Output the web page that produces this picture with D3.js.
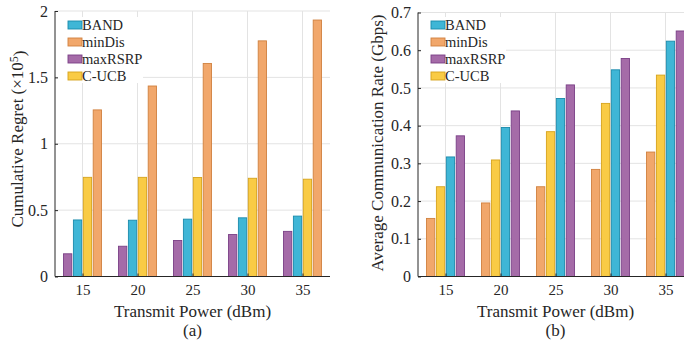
<!DOCTYPE html>
<html>
<head>
<meta charset="utf-8">
<script src="https://cdn.jsdelivr.net/npm/d3@7"></script>
<style>
  body { margin: 0; background: #fff; }
  svg text { font-family: "Liberation Serif", "Times New Roman", serif; fill: #262626; }
</style>
</head>
<body>
<script>
// data
var powers = [15, 20, 25, 30, 35];
var seriesNames = ["BAND", "minDis", "maxRSRP", "C-UCB"];

// cumulative regret, x 10^5
var regretBAND    = [0.426, 0.424, 0.432, 0.442, 0.455];
var regretMinDis  = [1.255, 1.435, 1.605, 1.775, 1.932];
var regretMaxRSRP = [0.171, 0.228, 0.271, 0.316, 0.340];
var regretCUCB    = [0.747, 0.747, 0.746, 0.740, 0.733];

// average communication rate, Gbps
var rateBAND    = [0.317, 0.395, 0.472, 0.548, 0.624];
var rateMinDis  = [0.154, 0.195, 0.238, 0.284, 0.330];
var rateMaxRSRP = [0.373, 0.439, 0.508, 0.578, 0.651];
var rateCUCB    = [0.238, 0.309, 0.384, 0.459, 0.534];

var regretTicks = [0, 0.5, 1, 1.5, 2];
var rateTicks = [0, 0.1, 0.2, 0.3, 0.4, 0.5, 0.6, 0.7];

var faceColor = d3.scaleOrdinal().domain(seriesNames)
    .range(["#3fb6d6", "#f1a76b", "#a56ba8", "#f9cb45"]);
var edgeColor = d3.scaleOrdinal().domain(seriesNames)
    .range(["#1a8aab", "#d0813f", "#7a3f86", "#d6a31c"]);

var svg = d3.select("body").append("svg")
    .attr("width", 684)
    .attr("height", 341);

function drawPanel(opts) {
    var x = d3.scaleLinear().domain([12.5, 37.5]).range([opts.left, opts.right]);
    var y = d3.scaleLinear().domain(opts.yDomain).range([276.5, opts.top]);
    var g = svg.append("g");

    // grid
    g.append("g").selectAll("line").data(opts.yTicks.slice(1)).enter().append("line")
        .attr("x1", opts.left).attr("x2", opts.right)
        .attr("y1", function(d) { return y(d); }).attr("y2", function(d) { return y(d); })
        .style("stroke", "#e3e3e3").style("stroke-width", 1);
    g.append("g").selectAll("line").data(powers).enter().append("line")
        .attr("x1", function(d) { return x(d); }).attr("x2", function(d) { return x(d); })
        .attr("y1", opts.top).attr("y2", 276.5)
        .style("stroke", "#e3e3e3").style("stroke-width", 1);

    // bars, sorted by value inside each group
    var slot = (x(5) - x(0)) * 0.18;
    var groups = powers.map(function(p, i) {
        var items = seriesNames.map(function(s) { return {name: s, power: p, value: opts.values[s][i]}; });
        items.sort(function(a, b) { return a.value - b.value; });
        items.forEach(function(d, k) { d.slot = k; });
        return items;
    });
    g.append("g").selectAll("rect").data(d3.merge(groups)).enter().append("rect")
        .attr("x", function(d) { return x(d.power) + (d.slot - 2) * slot + 0.8; })
        .attr("width", slot - 1.6)
        .attr("y", function(d) { return y(d.value); })
        .attr("height", function(d) { return y(0) - y(d.value); })
        .style("fill", function(d) { return faceColor(d.name); })
        .style("stroke", function(d) { return edgeColor(d.name); })
        .style("stroke-width", 0.9);

    // axes
    var yAxis = g.append("g")
        .attr("transform", "translate(" + opts.left + ",0)")
        .call(d3.axisLeft(y).tickValues(opts.yTicks).tickSize(-3).tickPadding(7)
            .tickFormat(function(d) { return d3.format("")(d); }));
    yAxis.select(".domain").attr("d", "M0," + opts.top + "V276.5").style("stroke", "#262626");
    yAxis.selectAll("line").style("stroke", "#262626");
    yAxis.selectAll("text").style("font-size", "16px").style("fill", "#262626")
        .attr("font-family", null);

    var xAxis = g.append("g")
        .attr("transform", "translate(0,276.5)")
        .call(d3.axisBottom(x).tickValues(powers).tickSize(-3).tickPadding(8));
    xAxis.select(".domain").attr("d", "M" + opts.left + ",0H" + opts.right).style("stroke", "#262626");
    xAxis.selectAll("line").style("stroke", "#262626");
    xAxis.selectAll("text").style("font-size", "15px").style("fill", "#262626")
        .attr("font-family", null);

    // legend
    var lx = opts.left + 13;
    g.append("rect")
        .attr("x", opts.left + 3).attr("y", 17)
        .attr("width", 85).attr("height", 66)
        .style("fill", "#fff");
    var legend = g.selectAll(".legend").data(seriesNames).enter().append("g")
        .attr("transform", function(d, i) { return "translate(" + lx + "," + (25 + i * 17) + ")"; });
    legend.append("rect")
        .attr("x", 0).attr("y", -4)
        .attr("width", 14).attr("height", 8)
        .style("fill", faceColor)
        .style("stroke", edgeColor)
        .style("stroke-width", 0.9);
    legend.append("text")
        .attr("x", 14).attr("dy", "0.35em")
        .style("font-size", "14.5px")
        .text(function(d) { return d; });

    // labels
    g.append("text")
        .attr("x", (x(15) + x(35)) / 2).attr("y", 317)
        .style("text-anchor", "middle").style("font-size", "17px")
        .text("Transmit Power (dBm)");
    g.append("text")
        .attr("x", (x(15) + x(35)) / 2).attr("y", 336)
        .style("text-anchor", "middle").style("font-size", "17px")
        .text(opts.caption);

    var yl = g.append("text")
        .attr("transform", "translate(" + opts.ylabelX + "," + opts.ylabelY + ") rotate(-90)")
        .style("text-anchor", "middle").style("font-size", "17px");
    opts.ylabel(yl);
}

drawPanel({
    left: 55, right: 330, top: 11,
    yDomain: [0, 2], yTicks: regretTicks,
    values: {"BAND": regretBAND, "minDis": regretMinDis, "maxRSRP": regretMaxRSRP, "C-UCB": regretCUCB},
    caption: "(a)",
    ylabelX: 23, ylabelY: 139,
    ylabel: function(t) {
        t.append("tspan").text("Cumulative Regret (×10");
        t.append("tspan").attr("dy", "-0.45em").style("font-size", "12px").text("5");
        t.append("tspan").attr("dy", "0.45em").text(")");
    }
});

drawPanel({
    left: 418, right: 693, top: 12.5,
    yDomain: [0, 0.7], yTicks: rateTicks,
    values: {"BAND": rateBAND, "minDis": rateMinDis, "maxRSRP": rateMaxRSRP, "C-UCB": rateCUCB},
    caption: "(b)",
    ylabelX: 383, ylabelY: 143,
    ylabel: function(t) { t.text("Average Communication Rate (Gbps)"); }
});
</script>
</body>
</html>
